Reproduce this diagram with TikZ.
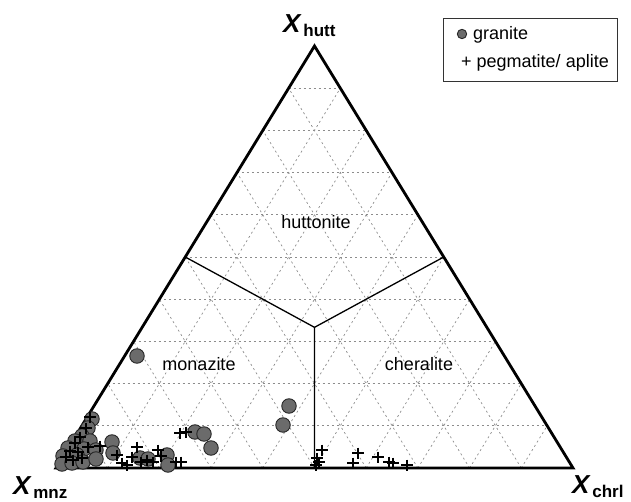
\documentclass[tikz,border=0pt]{standalone}
\usepackage{fontspec}
\setmainfont{Liberation Sans}
\usetikzlibrary{calc}
\begin{document}
\begin{tikzpicture}[x=1pt,y=-1pt,
  gridline/.style={black!45, line width=0.7pt, dash pattern=on 2pt off 3pt},
  edge/.style={line width=2.8pt, line join=miter},
  border/.style={line width=1.3pt},
  grt/.style={circle, draw=black!85, fill=black!58, line width=0.9pt, minimum size=14.5pt, inner sep=0pt},
  lbl/.style={font=\fontsize{18}{20}\selectfont, inner sep=0pt, anchor=base},
  axis/.style={inner sep=0pt, anchor=base west},
  pegm/.pic={\draw[line width=1.3pt] (-6,0) -- (6,0) (0,-5.5) -- (0,5.5);}
]
\useasboundingbox (0,0) rectangle (631,502);
\coordinate (A) at (56,468);
\coordinate (B) at (573,468);
\coordinate (C) at (314.5,46);
\coordinate (G) at ($(A)!0.5!(B)!1/3!(C)$);
\coordinate (MAC) at ($(A)!0.5!(C)$);
\coordinate (MBC) at ($(B)!0.5!(C)$);
\coordinate (MAB) at ($(A)!0.5!(B)$);
% grid
\foreach \i in {1,...,9}{
  \pgfmathsetmacro{\t}{\i/10}
  \pgfmathsetmacro{\s}{1-\i/10}
  \draw[gridline] ($(A)!\t!(C)$) -- ($(B)!\t!(C)$);
  \draw[gridline] ($(A)!\t!(B)$) -- ($(B)!\s!(C)$);
  \draw[gridline] ($(A)!\t!(B)$) -- ($(A)!\t!(C)$);
}
% field boundaries
\draw[border] (MAC) -- (G) -- (MBC);
\draw[border] (G) -- (MAB);
% triangle
\draw[edge] (A) -- (B) -- (C) -- cycle;
% corner labels
\node[axis] (xh) at (283,33) {\fontsize{26}{26}\selectfont\bfseries\itshape X\raisebox{-4pt}{\fontsize{17}{17}\selectfont\upshape\,hutt}};
\node[axis] (xm) at (13,494.5) {\fontsize{26}{26}\selectfont\bfseries\itshape X\raisebox{-4pt}{\fontsize{17}{17}\selectfont\upshape\,mnz}};
\node[axis] (xc) at (572,493) {\fontsize{26}{26}\selectfont\bfseries\itshape X\raisebox{-4pt}{\fontsize{17}{17}\selectfont\upshape\,chrl}};
% field labels
\node[lbl] (hut) at (316,229) {huttonite};
\node[lbl] (mon) at (199,370) {monazite};
\node[lbl] (che) at (419,370) {cheralite};
% legend
\node[draw=black!80, line width=0.9pt, minimum width=174pt, minimum height=63pt, anchor=north west, inner sep=0pt] (leg) at (443,18) {};
\node[grt, minimum size=9.4pt] (lgc) at (462,34) {};
\node[axis, font=\fontsize{18}{20}\selectfont] (lg1) at (473,39.5) {granite};
\node[axis, font=\fontsize{18}{20}\selectfont] (lg2) at (461,68) {+ pegmatite/ aplite};
% granite data
\foreach \p [count=\i] in {(137,356),(289,406),(283,425),(195,432),(204,434),(211,448),
  (167,455),(168,465),(140,458),(148,459),(112,442),(113,453),
  (92,419),(88,428),(82,436),(90,441),(75,441),(68,448),(84,449),(96,450),
  (63,456),(77,455),(62,464),(72,463),(83,462),(96,459)}
  \node[grt] (g\i) at \p {};
% pegmatite data
\foreach \p in {(90,417),(86,428),(80,437),(75,443),(70,451),(78,452),(66,457),(73,460),
  (82,458),(88,447),(100,446),(117,455),(122,463),(132,457),(127,465),(137,447),
  (141,462),(147,460),(153,462),(158,450),(161,456),(176,462),(181,462),(180,433),
  (186,432),(322,450),(317,458),(319,462),(316,465),(358,453),(353,463),(378,457),
  (389,462),(393,463),(407,465)}
  \pic at \p {pegm};
\end{tikzpicture}
\end{document}
